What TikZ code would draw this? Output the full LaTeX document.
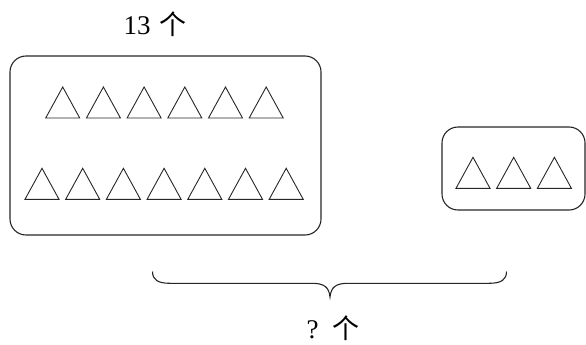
\documentclass[tikz,border=0pt]{standalone}
\usepackage{fontspec}
\setmainfont{Liberation Serif}
\newfontfamily\cjk{Noto Sans CJK SC}
\begin{document}
\begin{tikzpicture}[x=1pt,y=-1pt,
  box/.style={draw=black!85,line width=1.1pt,rounded corners=16pt},
  tri/.style={draw=black!85,line width=0.9pt,line join=miter},
  lbl/.style={anchor=base,inner sep=0pt,font=\fontsize{27}{32}\selectfont},
  brc/.style={draw=black!85,line width=1.1pt}]
\useasboundingbox (0,0) rectangle (586,345);
% boxes
\draw[box] (10,56) rectangle (321,235);
\draw[box] (442,127) rectangle (585,210);
% triangles
\foreach \i in {0,...,5} \draw[tri] ({45.7+40.7*\i},118) -- ++(34,0) -- ++(-17,-31) -- cycle;
\foreach \i in {0,...,6} \draw[tri] ({25+40.7*\i},199.3) -- ++(34,0) -- ++(-17,-31) -- cycle;
\foreach \i in {0,...,2} \draw[tri] ({456+40.7*\i},188.3) -- ++(34,0) -- ++(-17,-31) -- cycle;
% labels
\node[lbl] (top) at (155,35) {13\hspace{9pt}{\cjk 个}};
\node[lbl] (bot) at (333,338) {?\hspace{14pt}{\cjk 个}};
% brace
\coordinate (bl) at (152.5,271.5);
\coordinate (br) at (506.5,271.5);
\coordinate (bt) at (330,297);
\draw[brc] (bl) .. controls (152.5,280) and (158,283.3) .. (170,283.3)
  -- (312,283.3) .. controls (324,283.3) and (329,287) .. (bt)
  .. controls (331,287) and (336,283.3) .. (348,283.3)
  -- (489,283.3) .. controls (501,283.3) and (506.5,280) .. (br);
\end{tikzpicture}
\end{document}
